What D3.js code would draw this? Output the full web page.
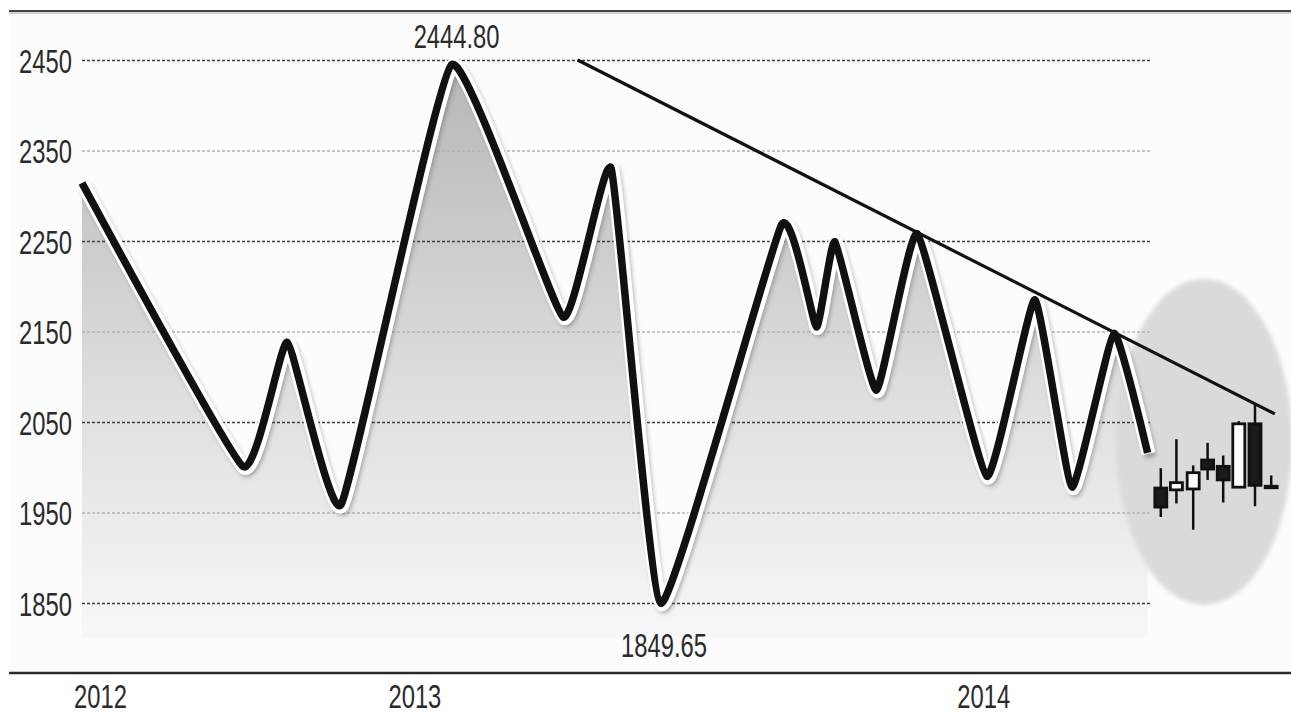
<!DOCTYPE html>
<html>
<head>
<meta charset="utf-8">
<script src="https://cdn.jsdelivr.net/npm/d3@7/dist/d3.min.js"></script>
<style>
  html, body { margin: 0; padding: 0; background: #fff; }
  svg { display: block; }
  text { font-family: "Liberation Sans", Arial, sans-serif; fill: #2a2a2a; }
</style>
</head>
<body>
<svg id="chart" width="1291" height="716"></svg>
<script>
// index turning points (t = period index, v = index level)
const lineT = [0, 13.4, 17.1, 21.6, 30.8, 40.1, 44.1, 48.25, 58.3, 61.2, 62.75, 66.2, 69.6, 75.4, 79.4, 82.5, 86, 88.8];
const lineV = [2314, 2001, 2138, 1959, 2444.8, 2166, 2330, 1849.65, 2268, 2155, 2249, 2085, 2258, 1990, 2185, 1978, 2148, 2016];

// recent daily candles
const candleT = [89.9, 91.2, 92.6, 93.8, 95.1, 96.4, 97.75, 99.1];
const candleOpen = [1977, 1975, 1976, 2008, 2001, 1978, 2048, 1979];
const candleClose = [1956, 1983, 1994, 1998, 1986, 2048, 1980, 1979];
const candleHigh = [1999, 2031, 2002, 2027, 2013, 2051, 2071, 1991];
const candleLow = [1945, 1960, 1931, 1986, 1961, 1978, 1957, 1978];

// falling resistance line
const trendT = [41.3, 99.4];
const trendV = [2450, 2059];

const yTicks = [1850, 1950, 2050, 2150, 2250, 2350, 2450];
const yearLabels = ["2012", "2013", "2014"];
const yearT = [1.5, 27.7, 75.1];

const highLabel = { t: 30.8, v: 2444.8, text: "2444.80" };
const lowLabel = { t: 48.25, v: 1849.65, text: "1849.65" };

const svg = d3.select("#chart");
const x = d3.scaleLinear().domain([0, 100]).range([82, 1282]);
const y = d3.scaleLinear().domain([1850, 2450]).range([603, 60]);

// condensed, slightly tall lettering
const textScale = "scale(0.82,1.15)";

const defs = svg.append("defs");
const grad = defs.append("linearGradient")
    .attr("id", "areaGrad")
    .attr("gradientUnits", "userSpaceOnUse")
    .attr("x1", 0).attr("x2", 0)
    .attr("y1", y(2450)).attr("y2", y(1815));
grad.append("stop").attr("offset", "0%").attr("stop-color", "#b6b6b6");
grad.append("stop").attr("offset", "55%").attr("stop-color", "#dcdcdc");
grad.append("stop").attr("offset", "100%").attr("stop-color", "#f7f7f7");

defs.append("filter").attr("id", "blur").attr("x", "-10%").attr("y", "-10%").attr("width", "120%").attr("height", "120%")
    .append("feGaussianBlur").attr("stdDeviation", 2.5);
defs.append("filter").attr("id", "soft").attr("x", "-20%").attr("y", "-20%").attr("width", "140%").attr("height", "140%")
    .append("feGaussianBlur").attr("stdDeviation", 2);

// panel
svg.append("rect")
    .attr("x", 9).attr("y", 12).attr("width", 1282).attr("height", 661)
    .attr("fill", "#fcfcfc");

const pts = lineT.map((t, i) => [t, lineV[i]]);
const curve = d3.curveCardinal.tension(0.6);

// area under the line
const area = d3.area()
    .x(d => x(d[0]))
    .y0(y(1812))
    .y1(d => y(d[1]))
    .curve(curve);
svg.append("path")
    .datum(pts)
    .attr("d", area)
    .attr("fill", "url(#areaGrad)");

// grey ellipse behind candles
svg.append("ellipse")
    .attr("cx", x(93.5))
    .attr("cy", y(2028))
    .attr("rx", 88)
    .attr("ry", 163)
    .attr("fill", "#dadada")
    .attr("filter", "url(#soft)");

// grid lines
const grid = svg.append("g")
    .attr("transform", `translate(${x(0)},0)`)
    .call(d3.axisRight(y).tickValues(yTicks).tickSize(x(89) - x(0)).tickFormat(""));
grid.select(".domain").remove();
grid.selectAll(".tick line")
    .attr("stroke", (d, i) => i % 2 === 0 ? "#3c3c3c" : "#b4b4b4")
    .attr("stroke-width", 1.3)
    .attr("stroke-dasharray", "3,2");

// y labels
const yAxis = svg.append("g")
    .attr("transform", `translate(${x(0)},0)`)
    .call(d3.axisLeft(y).tickValues(yTicks).tickSize(0).tickFormat(d3.format("d")));
yAxis.select(".domain").remove();
yAxis.selectAll(".tick text")
    .attr("x", null).attr("dy", null)
    .attr("text-anchor", "end")
    .attr("fill", "#2a2a2a")
    .style("font-size", "29px")
    .attr("transform", `translate(-10,12) ${textScale}`);

// main line: shadow, white rim, black stroke
const line = d3.line()
    .x(d => x(d[0]))
    .y(d => y(d[1]))
    .curve(curve);
svg.append("path")
    .datum(pts)
    .attr("d", line)
    .attr("fill", "none")
    .attr("stroke", "#555")
    .attr("stroke-width", 11)
    .attr("stroke-linejoin", "round")
    .attr("opacity", 0.55)
    .attr("transform", "translate(3,4)")
    .attr("filter", "url(#blur)");
svg.append("path")
    .datum(pts)
    .attr("d", line)
    .attr("fill", "none")
    .attr("stroke", "#fff")
    .attr("stroke-width", 14)
    .attr("stroke-linejoin", "round")
    .attr("transform", "translate(1,1)");
svg.append("path")
    .datum(pts)
    .attr("d", line)
    .attr("fill", "none")
    .attr("stroke", "#111")
    .attr("stroke-width", 7.5)
    .attr("stroke-linejoin", "round")
    .attr("stroke-linecap", "butt");

// trend line
svg.append("path")
    .datum(trendT.map((t, i) => [t, trendV[i]]))
    .attr("d", d3.line().x(d => x(d[0])).y(d => y(d[1])))
    .attr("fill", "none")
    .attr("stroke", "#111")
    .attr("stroke-width", 3.2);

// candles
const bw = x(1) - x(0);
const candles = svg.append("g").selectAll("g")
    .data(candleT.map((t, i) => ({ t, o: candleOpen[i], c: candleClose[i], h: candleHigh[i], l: candleLow[i] })))
    .join("g");
candles.append("line")
    .attr("x1", d => x(d.t)).attr("x2", d => x(d.t))
    .attr("y1", d => y(d.h)).attr("y2", d => y(d.l))
    .attr("stroke", "#111").attr("stroke-width", 2.5);
candles.append("rect")
    .attr("x", d => x(d.t) - bw / 2)
    .attr("width", bw)
    .attr("y", d => y(Math.max(d.o, d.c)))
    .attr("height", d => Math.max(1.5, y(Math.min(d.o, d.c)) - y(Math.max(d.o, d.c))))
    .attr("fill", d => d.c > d.o ? "#fff" : "#1a1a1a")
    .attr("stroke", "#111")
    .attr("stroke-width", 2.8);

// high / low labels
svg.append("text")
    .attr("text-anchor", "middle")
    .style("font-size", "29px")
    .attr("transform", `translate(${x(highLabel.t) + 5},${y(highLabel.v) - 17}) ${textScale}`)
    .text(highLabel.text);
svg.append("text")
    .attr("text-anchor", "middle")
    .style("font-size", "29px")
    .attr("transform", `translate(${x(lowLabel.t) + 3},${y(lowLabel.v) + 54}) ${textScale}`)
    .text(lowLabel.text);

// frame lines
svg.append("line").attr("x1", 9).attr("x2", 1291).attr("y1", 11).attr("y2", 11)
    .attr("stroke", "#444").attr("stroke-width", 2);
svg.append("line").attr("x1", 9).attr("x2", 1291).attr("y1", 13).attr("y2", 13)
    .attr("stroke", "#aaa").attr("stroke-width", 1);
svg.append("line").attr("x1", 9).attr("x2", 1291).attr("y1", 673).attr("y2", 673)
    .attr("stroke", "#2a2a2a").attr("stroke-width", 2.5);

// year axis
const xAxis = svg.append("g")
    .attr("transform", "translate(0,674)")
    .call(d3.axisBottom(x).tickValues(yearT).tickSize(0).tickFormat((d, i) => yearLabels[i]));
xAxis.select(".domain").remove();
xAxis.selectAll(".tick text")
    .attr("y", null).attr("dy", null)
    .attr("text-anchor", "middle")
    .attr("fill", "#2a2a2a")
    .style("font-size", "29px")
    .attr("transform", `translate(0,34) ${textScale}`);
</script>
</body>
</html>
